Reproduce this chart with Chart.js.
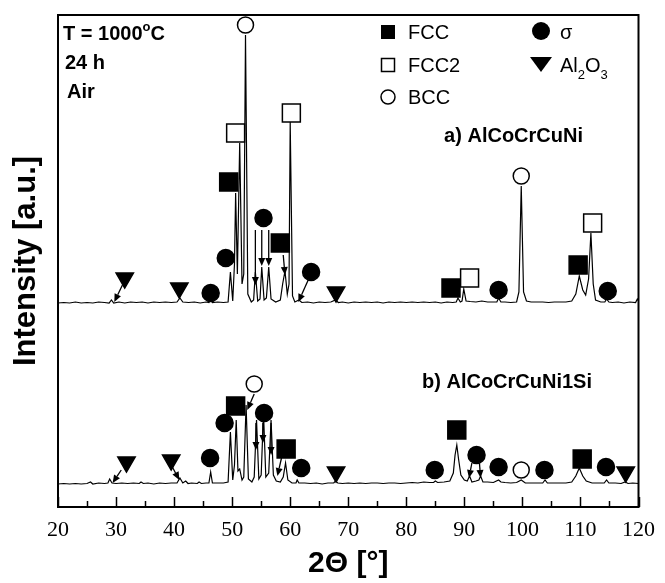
<!DOCTYPE html>
<html>
<head>
<meta charset="utf-8">
<script src="https://cdn.jsdelivr.net/npm/chart.js@4.4.1/dist/chart.umd.min.js"></script>
<style>
  html, body { margin: 0; padding: 0; background: #fff; }
</style>
</head>
<body>
<canvas id="xrd" width="665" height="583"></canvas>
<script>
// diffractogrammes [2theta, intensite au-dessus de la ligne de base]
const PATTERN_A = [
  [20,1],[21,1.5],[22,1],[23,2],[24,1],[25,1.5],[26,1],[27,2],[28,1.5],[28.8,1],[29.2,4],[29.6,1],
  [30.5,2],[31.5,1],[32.5,2],[33.5,1.5],[34.5,2],[35.5,1],[36.5,2],[37.5,1.5],[38.5,2],[39.5,1.5],
  [40.5,2],[41,6],[41.5,2],[42.5,1.5],[43.5,2],[44.5,1],[45.5,2],[46,1.5],[46.3,4],[46.6,1.5],
  [47.5,2],[48.5,1.5],[49.3,2],[49.7,32],[50.1,3],[50.4,40],[50.6,111],[50.9,30],[51.3,161],
  [51.7,20],[52.0,30],[52.3,269],[52.7,10],[53.3,2],[53.7,4],[54.0,32],[54.4,3],[54.8,5],[55.1,37],
  [55.5,4],[55.9,6],[56.3,37],[56.7,5],[57.5,2],[58.3,4],[58.7,20],[59.1,33],[59.5,10],[59.8,20],
  [60.0,182],[60.4,8],[60.8,2],[61.5,4],[62,1.5],[63,2],[64,1],[65,2],[66,1.5],[67,2],[67.8,4],
  [68.3,1.5],[69,2],[70,1],[71,2],[72,1.5],[73,2],[74,1.5],[75,2],[76,1],[77,2],[78,1.5],[79,2],
  [80,1.5],[81,2],[82,1.5],[83,2],[84,1.5],[85,2],[86,1],[87,2],[88,1.5],[88.6,2],[88.9,6],[89.3,2],
  [89.6,3],[89.9,15],[90.3,3],[91,2.5],[92,2],[93,3],[94,2],[95,2],[95.6,2],[95.9,6],[96.3,2],
  [97,2],[98,1.5],[99,2],[99.4,12],[99.8,118],[100.2,12],[100.7,3],[101.5,2],[102.5,2],[103.5,2],
  [104.5,1.5],[105.5,2],[106.5,2],[107.5,2],[108.5,3],[109.2,10],[109.8,28],[110.4,14],[110.9,9],
  [111.4,25],[111.8,71],[112.2,20],[112.6,4],[113.5,2],[114.2,2],[114.5,5],[114.9,2],[115.5,1.5],
  [116.5,2],[117.5,1],[118.5,2],[119.5,1.5],[119.8,5],[120,3],
];
const PATTERN_B = [
  [20,1],[21,1.5],[22,1],[23,1.5],[24,1],[25,1.5],[25.6,3],[26,1],[27,2],[28,1.5],[28.6,2],[28.9,6],
  [29.3,2],[30,1.5],[31,2],[32,1.5],[33,2],[34,1.5],[34.3,3],[34.7,1.5],[35.5,2],[36.5,1],[37.5,2],
  [38.5,1.5],[39.5,2],[40.5,2],[41,7],[41.5,2],[42,4],[42.4,1.5],[43,2],[44,1.5],[44.3,3],[44.7,1.5],
  [45.5,2],[46,2],[46.3,13],[46.6,2],[47.5,2],[48.5,2],[49.3,3],[49.7,53],[50.1,5],[50.4,20],
  [50.7,65],[51.0,14],[51.3,16],[51.7,5],[52.0,8],[52.4,80],[52.8,6],[53.4,3],[53.8,8],[54.2,65],
  [54.6,6],[55.0,10],[55.4,72],[55.8,8],[56.3,12],[56.7,65],[57.1,10],[57.6,4],[58.3,3],[58.8,8],
  [59.2,22],[59.6,5],[60.3,2],[61,2],[61.2,5],[61.5,2],[62.5,2],[63.5,1.5],[64.5,2],[65.5,1],
  [66.5,2],[67.5,2],[67.8,4],[68.2,2],[69,1.5],[70,2],[71,1.5],[72,2],[73,1.5],[74,2],[75,2],
  [76,1.5],[77,2],[78,2],[79,1.5],[80,2],[81,2.5],[82,2],[83,3],[84,2.5],[84.7,2.5],[85.0,4],
  [85.4,2.5],[86.5,3],[87.5,4],[88.1,12],[88.4,30],[88.7,40],[89.0,26],[89.4,10],[90,5],[90.5,4],
  [90.9,9],[91.3,3],[92,4],[92.5,5],[92.8,9],[93.2,3],[94,3],[95,2.5],[95.9,5],[96.3,3],[97,2.5],
  [98,2],[99,2.5],[99.8,5],[100.5,2],[101.5,2],[102.5,2],[103.5,2],[103.9,5],[104.3,2],[105.5,2],
  [106.5,2],[107.5,2],[108.5,3],[109.2,9],[109.8,17],[110.4,9],[111,4],[112,2],[113,2],[114.1,2],
  [114.5,5],[114.9,2],[116,2],[117,1.5],[117.7,3],[118.2,1.5],[119,2],[120,1.5],
];
// decalage vertical des deux courbes
const OFFSET_A = 203;
const OFFSET_B = 22;
const X_TICKS = [20, 30, 40, 50, 60, 70, 80, 90, 100, 110, 120];

// reperes de phases [2theta, hauteur au-dessus de la ligne de base]
const FCC_A = [[49.4,122],[58.3,61],[87.7,16],[109.6,39]];
const FCC2_A = [[50.6,171],[60.2,191],[90.9,26],[112.1,81]];
const BCC_A = [[52.3,279],[99.8,128]];
const SIGMA_A = [[46.3,11],[48.9,46],[55.4,86],[63.6,32],[95.9,14],[114.7,13]];
const AL2O3_A = [[31.5,26],[40.9,16],[67.9,12]];

const FCC_B = [[50.6,79],[59.3,36],[88.7,55],[110.3,26]];
const BCC_B = [[53.8,101],[99.8,15]];
const SIGMA_B = [[46.2,27],[48.7,62],[55.5,72],[61.9,17],[84.9,15],[92.1,30],[95.9,18],[103.8,15],[114.4,18]];
const AL2O3_B = [[31.8,23],[39.5,25],[67.9,13],[117.8,13]];

// fleches [x1, y1, x2, y2] vers les pics
const ARROWS_A = [
  [31.1,19,29.7,2], [54.0,74,54.0,19], [55.1,74,55.1,38], [56.3,74,56.3,38],
  [58.8,49,59.1,29], [63.1,24,61.4,2],
];
const ARROWS_B = [
  [30.9,15,29.4,2], [39.7,18,40.9,5], [53.8,91,52.6,75],
  [54.1,62,54.1,35], [55.3,62,55.3,42], [56.7,62,56.7,30],
  [58.5,27,57.8,9], [91.3,22,90.8,7], [92.6,22,92.8,7],
];

const FONT = "'Liberation Sans', Arial, sans-serif";
Chart.defaults.font.family = FONT;
Chart.defaults.color = '#000';

const shift = (pts, off) => pts.map(([x, y]) => ({ x, y: y + off }));

function markers(pts, style, filled, radius, rotation) {
  return {
    type: 'scatter', data: pts, pointStyle: style, pointRadius: radius, pointHoverRadius: radius,
    pointBackgroundColor: filled ? '#000' : '#fff', pointBorderColor: '#000', pointBorderWidth: 1.5,
    pointRotation: rotation || 0, showLine: false, clip: false, order: 0,
  };
}
function trace(pts) {
  return { type: 'line', data: pts, borderColor: '#000', borderWidth: 1.2, pointRadius: 0, tension: 0, fill: false, order: 1 };
}

function arrow(ctx, x1, y1, x2, y2) {
  const a = Math.atan2(y2 - y1, x2 - x1);
  const len = 8, half = 3.5;
  const bx = x2 - Math.cos(a) * len, by = y2 - Math.sin(a) * len;
  ctx.beginPath(); ctx.moveTo(x1, y1); ctx.lineTo(bx, by); ctx.stroke();
  ctx.beginPath();
  ctx.moveTo(x2, y2);
  ctx.lineTo(bx - Math.sin(a) * half, by + Math.cos(a) * half);
  ctx.lineTo(bx + Math.sin(a) * half, by - Math.cos(a) * half);
  ctx.closePath(); ctx.fill();
}

// texte avec indices / exposants
function richText(ctx, parts, x, y, size, bold) {
  parts.forEach(([t, kind]) => {
    const s = kind ? Math.round(size * 0.65) : size;
    ctx.font = `${bold ? 'bold ' : ''}${s}px ${FONT}`;
    const dy = kind === 'sub' ? size * 0.35 : kind === 'sup' ? -size * 0.45 : 0;
    ctx.fillText(t, x, y + dy);
    x += ctx.measureText(t).width;
  });
}

const overlay = {
  id: 'overlay',
  afterDatasetsDraw(chart) {
    const { ctx, scales: { x, y } } = chart;
    ctx.save();
    ctx.strokeStyle = '#000'; ctx.fillStyle = '#000'; ctx.lineWidth = 1.3;
    const draw = (list, off) => list.forEach(([a, b, c, d]) =>
      arrow(ctx, x.getPixelForValue(a), y.getPixelForValue(b + off), x.getPixelForValue(c), y.getPixelForValue(d + off)));
    draw(ARROWS_A, OFFSET_A);
    draw(ARROWS_B, OFFSET_B);
    ctx.restore();
  },
  afterDraw(chart) {
    const { ctx, chartArea: ca, scales: { x } } = chart;
    ctx.save();
    ctx.strokeStyle = '#000'; ctx.fillStyle = '#000';
    // cadre
    ctx.lineWidth = 2;
    ctx.strokeRect(ca.left, ca.top, ca.right - ca.left, ca.bottom - ca.top);
    // graduations interieures
    ctx.lineWidth = 1.5;
    for (let v = 20; v <= 120; v += 5) {
      const px = Math.round(x.getPixelForValue(v)) + 0.5;
      const len = v % 10 === 0 ? 10 : 6;
      ctx.beginPath(); ctx.moveTo(px, ca.bottom); ctx.lineTo(px, ca.bottom - len); ctx.stroke();
    }
    // legende
    ctx.fillRect(381, 25, 14, 14);
    ctx.strokeRect(381.5, 58.5, 13, 13);
    ctx.beginPath(); ctx.arc(388, 97, 7, 0, 2 * Math.PI); ctx.stroke();
    ctx.beginPath(); ctx.arc(541, 31, 9, 0, 2 * Math.PI); ctx.fill();
    ctx.beginPath(); ctx.moveTo(530, 57); ctx.lineTo(552, 57); ctx.lineTo(541, 72); ctx.closePath(); ctx.fill();
    ctx.textBaseline = 'alphabetic'; ctx.textAlign = 'left';
    ctx.font = `20px ${FONT}`;
    ctx.fillText('FCC', 408, 39);
    ctx.fillText('FCC2', 408, 72);
    ctx.fillText('BCC', 408, 104);
    ctx.fillText('σ', 560, 39);
    richText(ctx, [['Al'], ['2', 'sub'], ['O'], ['3', 'sub']], 560, 72, 20, false);
    // conditions d'oxydation
    richText(ctx, [['T = 1000'], ['o', 'sup'], ['C']], 63, 40, 20, true);
    ctx.font = `bold 20px ${FONT}`;
    ctx.fillText('24 h', 65, 69);
    ctx.fillText('Air', 67, 98);
    // noms des alliages
    ctx.textAlign = 'right';
    ctx.fillText('a) AlCoCrCuNi', 583, 142);
    ctx.fillText('b) AlCoCrCuNi1Si', 592, 388);
    ctx.restore();
  },
};

new Chart(document.getElementById('xrd'), {
  type: 'scatter',
  data: {
    datasets: [
      markers(shift(FCC_A, OFFSET_A), 'rect', true, 12.7),
      markers(shift(FCC2_A, OFFSET_A), 'rect', false, 12.7),
      markers(shift(BCC_A, OFFSET_A), 'circle', false, 8),
      markers(shift(SIGMA_A, OFFSET_A), 'circle', true, 8.5),
      markers(shift(AL2O3_A, OFFSET_A), 'triangle', true, 10, 180),
      markers(shift(FCC_B, OFFSET_B), 'rect', true, 12.7),
      markers(shift(BCC_B, OFFSET_B), 'circle', false, 8),
      markers(shift(SIGMA_B, OFFSET_B), 'circle', true, 8.5),
      markers(shift(AL2O3_B, OFFSET_B), 'triangle', true, 10, 180),
      trace(shift(PATTERN_A, OFFSET_A)),
      trace(shift(PATTERN_B, OFFSET_B)),
    ],
  },
  options: {
    responsive: false,
    animation: false,
    layout: { padding: { top: 15, right: 22, left: 0, bottom: 0 } },
    plugins: { legend: { display: false }, tooltip: { enabled: false } },
    scales: {
      x: {
        type: 'linear', min: 20, max: 120,
        afterBuildTicks: (s) => { s.ticks = X_TICKS.map(v => ({ value: v })); },
        afterFit: (s) => { s.height = 76; },
        grid: { display: false, drawTicks: false },
        border: { display: false },
        ticks: { font: { family: "'Liberation Serif', 'Times New Roman', serif", size: 22 }, padding: 10, color: '#000' },
        title: { display: true, text: '2Θ [°]', font: { size: 30, weight: 'bold' }, padding: { top: 0, bottom: 1 } },
      },
      y: {
        min: 0, max: 492,
        afterFit: (s) => { s.width = 58; },
        grid: { display: false, drawTicks: false },
        border: { display: false },
        ticks: { display: false },
        title: { display: true, text: 'Intensity [a.u.]', font: { size: 31, weight: 'bold' }, padding: { top: 8, bottom: 0 } },
      },
    },
  },
  plugins: [overlay],
});
</script>
</body>
</html>
